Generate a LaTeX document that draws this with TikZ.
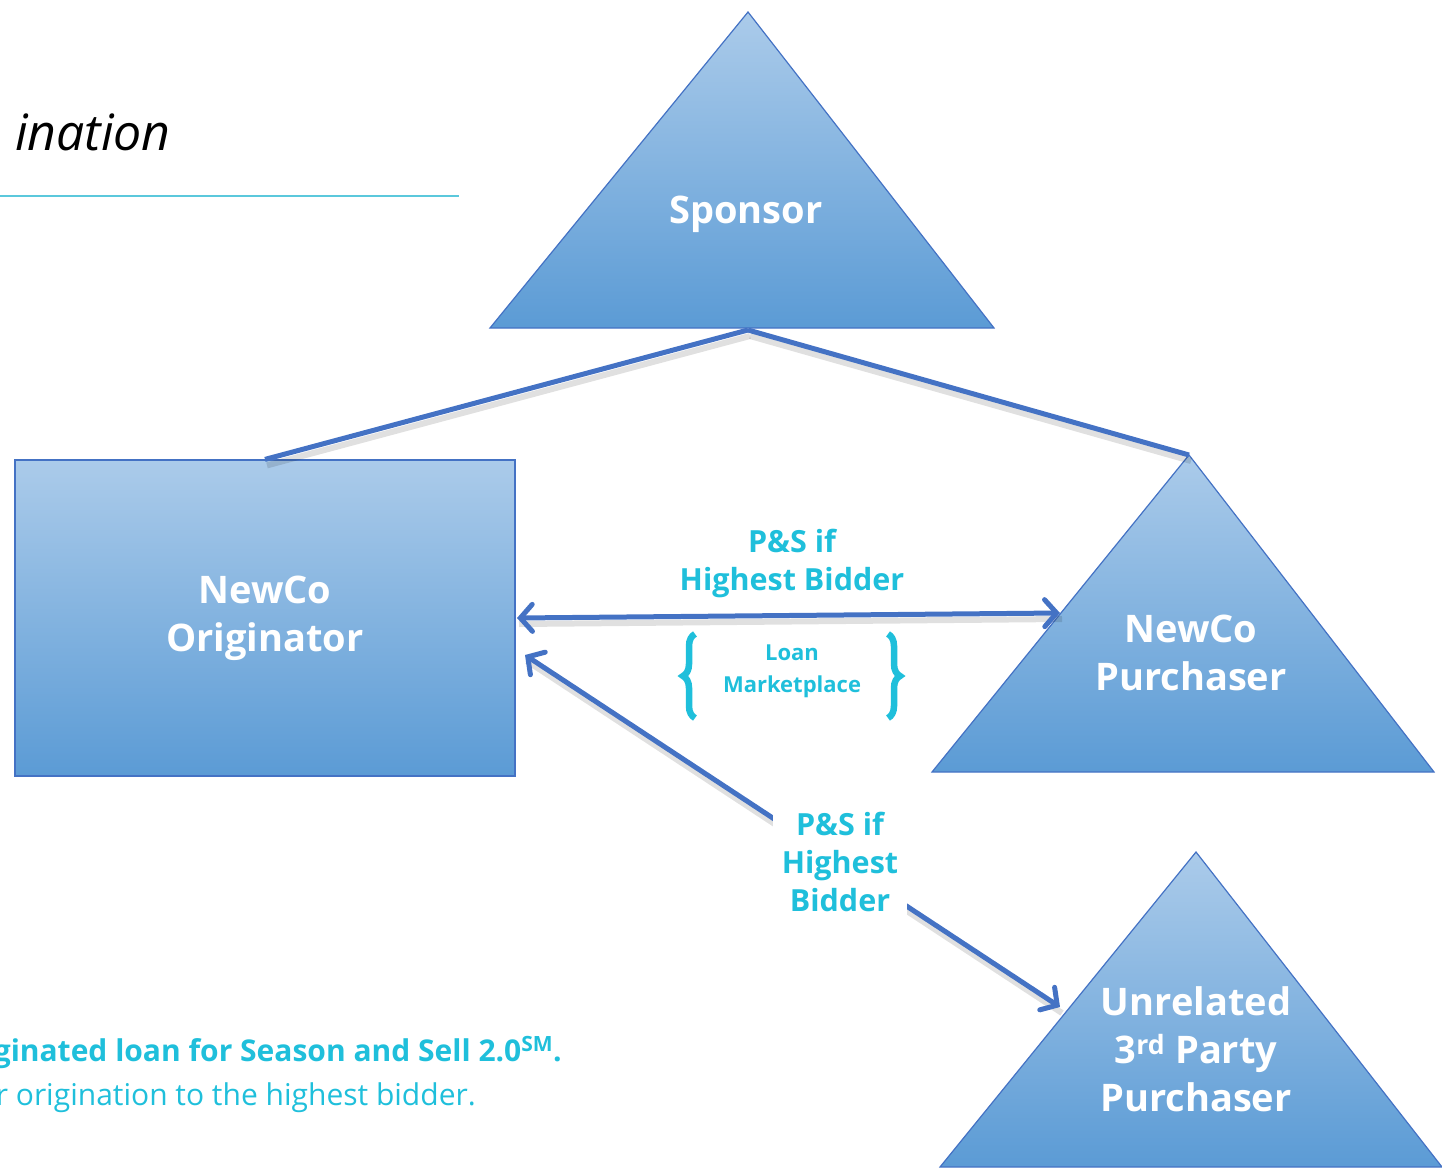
\documentclass[tikz,border=0pt]{standalone}
\usepackage{fontspec}
\setmainfont{Open Sans}
\usetikzlibrary{positioning,arrows.meta,decorations.pathreplacing}

\definecolor{shapetop}{HTML}{ABCBEA}
\definecolor{shapebot}{HTML}{5B9BD5}
\definecolor{edgeblue}{HTML}{4472C4}
\definecolor{labelcyan}{HTML}{1FBFDB}
\definecolor{rulecyan}{HTML}{5BC8DC}

\begin{document}
\begin{tikzpicture}[x=1pt, y=-1pt, >={Straight Barb[length=12pt,width=27pt,line cap=round]},
  shapefill/.style={top color=shapetop, bottom color=shapebot, draw=edgeblue, line width=1.2pt},
  shapetext/.style={text=white, font=\bfseries\fontsize{38}{48}\selectfont, align=center},
  link/.style={draw=edgeblue, line width=5pt},
  linkshadow/.style={draw=black, opacity=0.12, line width=6pt},
  cyanlabel/.style={text=labelcyan, font=\bfseries\fontsize{30.5}{38}\selectfont, align=center}]
  \useasboundingbox (0,0) rectangle (1442,1167);

  % title and notes
  \node[anchor=base east, font=\itshape\fontsize{50}{60}\selectfont, inner sep=0] (title) at (171,150) {ination};
  \draw[rulecyan, line width=2pt] (0,196) -- (459,196);
  \node[anchor=base east, text=labelcyan, font=\bfseries\fontsize{30}{36}\selectfont, inner sep=0] (note1) at (562,1061) {ginated loan for Season and Sell 2.0\textsuperscript{SM}.};
  \node[anchor=base east, text=labelcyan, font=\fontsize{30}{36}\selectfont, inner sep=0] (note2) at (476,1105) {r origination to the highest bidder.};

  % shapes
  \shade[shapefill] (748,12) -- (994,328) -- (490,328) -- cycle;
  \shade[shapefill] (1189,455) -- (1434,772) -- (932,772) -- cycle;
  \shade[shapefill] (1196,852) -- (1442,1167) -- (940,1167) -- cycle;
  \node[shapefill, minimum width=500pt, minimum height=316pt, shapetext] (orig) at (265,618) {NewCo\\Originator};
  \node[shapetext] (sponsor) at (746,214) {Sponsor};
  \node[shapetext] (purch) at (1191,653) {NewCo\\Purchaser};
  \node[shapetext] (third) at (1196,1049) {Unrelated\\3\textsuperscript{rd} Party\\Purchaser};

  \coordinate (spbase) at (748,330);
  \coordinate (purchtop) at (1189,455);
  \coordinate (purchleft) at (1060,613);
  \coordinate (thirdleft) at (1060,1007);
  \coordinate (origin) at (517,618);
  \coordinate (origlow) at (525,655);

  % shadows
  \draw[linkshadow] ([shift={(2,6)}]spbase) -- ([shift={(2,6)}]orig.north);
  \draw[linkshadow] ([shift={(2,6)}]spbase) -- ([shift={(2,6)}]purchtop);
  \draw[linkshadow] ([shift={(2,6)}]origin) -- ([shift={(2,6)}]purchleft);
  \draw[linkshadow] ([shift={(2,6)}]origlow) -- ([shift={(2,6)}]thirdleft);

  % connectors
  \draw[link] (spbase) -- (orig.north);
  \draw[link] (spbase) -- (purchtop);
  \draw[link, <->] (origin) -- (purchleft);
  \draw[link, <->] (origlow) -- (thirdleft);

  \node[cyanlabel] (bid1) at (792,563) {P\&S if\\Highest Bidder};
  \node[cyanlabel, fill=white, inner sep=9pt] (bid2) at (840,862) {P\&S if\\Highest\\Bidder};

  \node[text=labelcyan, font=\bfseries\fontsize{22}{32}\selectfont, align=center] (market) at (792,671) {Loan\\Marketplace};
  \draw[labelcyan, line width=6.5pt, decorate, decoration={brace, amplitude=12pt}] (695,718) -- (695,634);
  \draw[labelcyan, line width=6.5pt, decorate, decoration={brace, amplitude=12pt}] (888,634) -- (888,718);
\end{tikzpicture}
\end{document}
